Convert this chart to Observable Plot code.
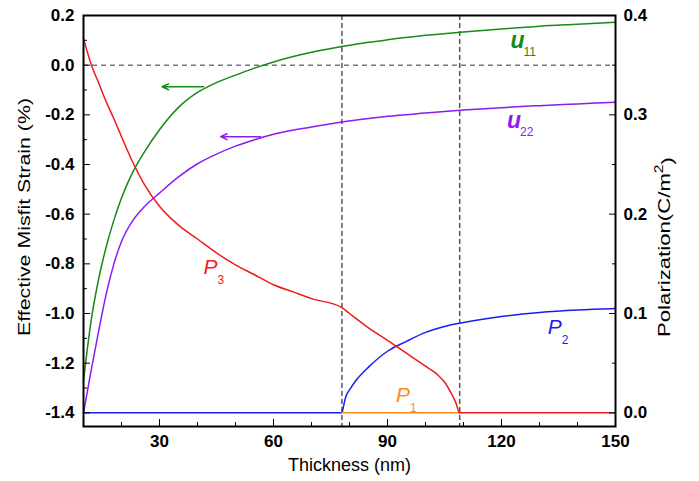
<!DOCTYPE html>
<html><head><meta charset="utf-8">
<script src="https://cdn.jsdelivr.net/npm/d3@7"></script>
<script src="https://cdn.jsdelivr.net/npm/@observablehq/plot@0.6"></script>
<style>
body{margin:0;background:#fff}
#chart svg{font-family:"Liberation Sans",Arial,sans-serif}
</style>
</head><body><div id="chart"></div>
<script>
// ---- strain curves (left axis, %) ----
const strainThickness = [10,12,14,16,18,20,23,26,30,35,40,45,50,55,60,70,78,85,90,100,110,120,130,140,150];
const u11 = [-1.27,-1.03,-0.86,-0.73,-0.624,-0.535,-0.43,-0.35,-0.26,-0.17,-0.11,-0.07,-0.04,-0.012,0.013,0.052,0.075,0.092,0.102,0.12,0.134,0.146,0.157,0.165,0.173];
const u22 = [-1.40,-1.23,-1.07,-0.92,-0.80,-0.71,-0.625,-0.57,-0.515,-0.45,-0.397,-0.358,-0.326,-0.30,-0.278,-0.249,-0.229,-0.215,-0.206,-0.193,-0.181,-0.171,-0.163,-0.156,-0.149];

// ---- polarization curves (right axis, C/m^2) ----
const p3Thickness = [10,12,14,16,18,20,23,26,30,35,40,45,50,55,60,65,70,78,80,85,90,95,100,103,105,107,108,109,150];
const p3 = [0.377,0.351,0.332,0.313,0.296,0.278,0.252,0.230,0.208,0.189,0.175,0.161,0.149,0.139,0.129,0.122,0.115,0.106,0.100,0.0855,0.073,0.060,0.047,0.039,0.031,0.018,0.010,0,0];
const p2Thickness = [10,78,78.5,79,80,82,85,90,95,100,105,110,120,130,140,150];
const p2 = [0,0,0.008,0.016,0.023,0.034,0.046,0.062,0.072,0.081,0.087,0.091,0.097,0.101,0.1035,0.105];
const p1Thickness = [78,109];
const p1 = [0,0];

// phase boundaries (nm)
const boundaries = [78,109];

// ticks
const xMajor = [30,60,90,120,150];
const xMinor = [20,40,50,70,80,100,110,130,140];
const strainMajor = [-1.4,-1.2,-1.0,-0.8,-0.6,-0.4,-0.2,0.0,0.2];
const strainMinor = [-1.3,-1.1,-0.9,-0.7,-0.5,-0.3,-0.1,0.1];
const polMajor = [0,0.1,0.2,0.3,0.4];
const polMinor = [0.05,0.15,0.25,0.35];

// curve labels (data coordinates, left axis units)
const curveLabels = [
  {key:"u11", name:"u", sub:"11", x:124.2, y:0.10},
  {key:"u22", name:"u", sub:"22", x:123.3, y:-0.222},
  {key:"p3", name:"P", sub:"3", x:43.4, y:-0.815},
  {key:"p2", name:"P", sub:"2", x:134.0, y:-1.056},
  {key:"p1", name:"P", sub:"1", x:94.1, y:-1.330}
];
// axis-pointing arrows
const arrows = [
  {key:"u11", x1:41.6, x2:30.7, y:-0.087},
  {key:"u22", x1:56.6, x2:46.1, y:-0.288}
];

const colors = {u11:"#178a17", u22:"#8a1cf0", p1:"#ff8a1a", p2:"#1c1cf0", p3:"#f01a1a"};

// right axis (polarization) is linked to left axis: 0 -> -1.4 %, 0.4 -> 0.2 %
const polToStrain = p => -1.4 + 4 * p;
const strainToPol = s => (s + 1.4) / 4;
const fmt = v => d3.format(".1f")(v).replace("\u2212", "-");

const zip = (xs, ys) => xs.map((x, i) => ({x, y: ys[i]}));

const lineOpts = {x:"x", y:"y", strokeWidth:1.5, curve:"monotone-x"};
const polLine = (xs, ys, key) => Plot.line(zip(xs, ys), {...lineOpts, y: d => polToStrain(d.y), stroke: colors[key]});

const labelMarks = curveLabels.flatMap(l => [
  Plot.text([l], {x:"x", y:"y", text:"name", fill: colors[l.key], fontStyle:"italic",
    fontWeight: l.name === "u" ? "bold" : "normal", fontSize: l.name === "u" ? 23 : 21}),
  Plot.text([l], {x:"x", y:"y", text:"sub", fill: colors[l.key], fontSize:12, textAnchor:"start",
    dx: l.name === "u" ? 6 : 7, dy: l.name === "u" ? 12 : 13})
]);

const arrowMarks = arrows.map(a => Plot.arrow([a], {x1:"x1", x2:"x2", y1:"y", y2:"y",
  stroke: colors[a.key], strokeWidth:1.5, headLength:7, headAngle:50}));

const chart = Plot.plot({
  width: 699,
  height: 481,
  marginLeft: 83,
  marginRight: 84,
  marginTop: 15,
  marginBottom: 55,
  style: {fontFamily: "Liberation Sans, Arial, sans-serif", background: "#fff"},
  x: {domain: [10, 150]},
  y: {domain: [-1.455, 0.2]},
  marks: [
    Plot.ruleY([0], {stroke:"#333", strokeWidth:1, strokeDasharray:"5,4"}),
    Plot.ruleX(boundaries, {stroke:"#555", strokeWidth:1.5, strokeDasharray:"5,3"}),
    Plot.line(zip(strainThickness, u11), {...lineOpts, stroke: colors.u11}),
    Plot.line(zip(strainThickness, u22), {...lineOpts, stroke: colors.u22}),
    polLine(p2Thickness, p2, "p2"),
    polLine(p1Thickness, p1, "p1"),
    polLine(p3Thickness, p3, "p3"),
    ...arrowMarks,
    ...labelMarks,
    // left axis
    Plot.axisY({anchor:"left", ticks: strainMajor, tickSize:-7, tickPadding:16, tickFormat: fmt,
      fontSize:17, fontWeight:"bold", label:null}),
    Plot.axisY({anchor:"left", ticks: strainMinor, tickSize:-4, tickFormat: () => "", label:null}),
    // right axis
    Plot.axisY({anchor:"right", ticks: polMajor.map(polToStrain), tickSize:-7, tickPadding:15,
      tickFormat: s => fmt(strainToPol(s)), fontSize:17, fontWeight:"bold", label:null}),
    Plot.axisY({anchor:"right", ticks: polMinor.map(polToStrain), tickSize:-4, tickFormat: () => "", label:null}),
    // bottom axis
    Plot.axisX({anchor:"bottom", ticks: xMajor, tickSize:-7, tickPadding:15, tickFormat: d => String(d),
      fontSize:17, fontWeight:"bold", label:null}),
    Plot.axisX({anchor:"bottom", ticks: xMinor, tickSize:-4, tickFormat: () => "", label:null}),
    Plot.frame({stroke:"#000", strokeWidth:2}),
    // axis titles
    Plot.text(["Effective Misfit Strain (%)"], {frameAnchor:"left", textAnchor:"middle", rotate:-90, dx:-59, dy:-4, fontSize:17}),
    Plot.text(["Polarization(C/m2)"], {frameAnchor:"right", textAnchor:"middle", rotate:-90, dx:49, dy:26, fontSize:17}),
    Plot.text(["Thickness (nm)"], {frameAnchor:"bottom", lineAnchor:"middle", dy:39, fontSize:18})
  ]
});

// the reference's lettering is taller than wide: stretch the rotated titles along their length
const svg = d3.select(chart);
svg.selectAll("text").each(function() {
  const t = d3.select(this);
  const s = this.textContent;
  if (s === "Effective Misfit Strain (%)") {
    t.attr("textLength", 238).attr("lengthAdjust", "spacingAndGlyphs");
  } else if (s === "Polarization(C/m2)") {
    t.text("Polarization(C/m");
    t.append("tspan").attr("dy", "-0.55em").attr("font-size", "12px").text("2");
    t.append("tspan").attr("dy", "0.55em").text(")");
    t.attr("textLength", 180).attr("lengthAdjust", "spacingAndGlyphs");
  }
});
document.getElementById("chart").appendChild(chart);
</script>
</body></html>
